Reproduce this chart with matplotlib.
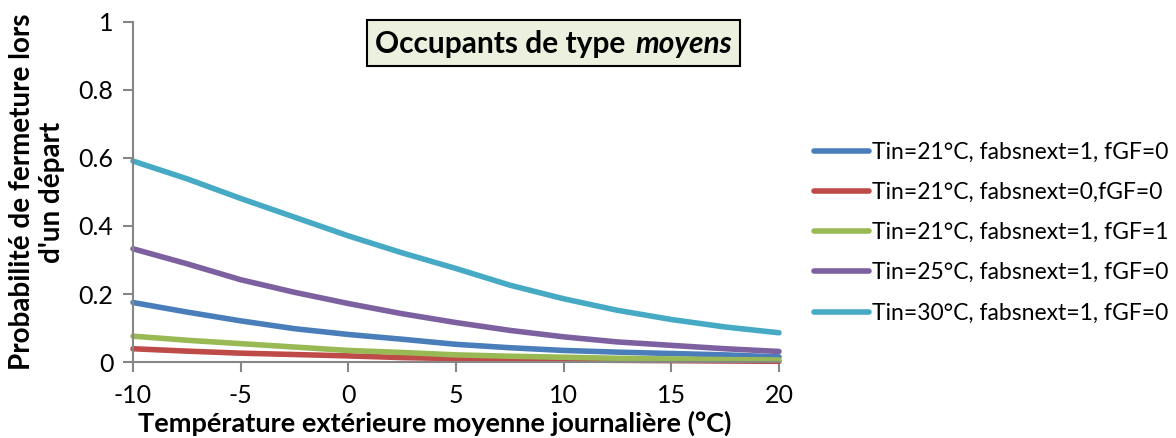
"""
Probabilité de fermeture lors d'un départ - occupants de type moyens.
"""

import matplotlib
matplotlib.use('Agg')
import matplotlib.pyplot as plt
from matplotlib.offsetbox import AnchoredOffsetbox, HPacker, TextArea
from matplotlib.patches import Rectangle

plt.rcParams['font.family'] = ['Lato', 'DejaVu Sans']
plt.rcParams['axes.unicode_minus'] = False

# ─────────────────────────────────────────────────────────────────────
# Data
# ─────────────────────────────────────────────────────────────────────

T_EXT = [-10, -7.5, -5, -2.5, 0, 2.5, 5, 7.5, 10, 12.5, 15, 17.5, 20]

P_21_ABS1_GF0 = [0.175, 0.147, 0.121, 0.098, 0.081, 0.067, 0.052,
                 0.042, 0.034, 0.029, 0.025, 0.021, 0.015]
P_21_ABS0_GF0 = [0.039, 0.032, 0.026, 0.022, 0.018, 0.013, 0.010,
                 0.008, 0.006, 0.005, 0.004, 0.003, 0.002]
P_21_ABS1_GF1 = [0.076, 0.064, 0.054, 0.044, 0.034, 0.028, 0.021,
                 0.017, 0.014, 0.011, 0.009, 0.007, 0.006]
P_25_ABS1_GF0 = [0.333, 0.289, 0.242, 0.205, 0.172, 0.142, 0.116,
                 0.093, 0.074, 0.059, 0.049, 0.039, 0.031]
P_30_ABS1_GF0 = [0.591, 0.539, 0.481, 0.426, 0.371, 0.321, 0.275,
                 0.226, 0.186, 0.152, 0.125, 0.103, 0.086]

SERIES = [
    ('Tin=21°C, fabsnext=1, fGF=0', P_21_ABS1_GF0, '#4A7EBB'),
    ('Tin=21°C, fabsnext=0,fGF=0',  P_21_ABS0_GF0, '#BE4B48'),
    ('Tin=21°C, fabsnext=1, fGF=1', P_21_ABS1_GF1, '#98B954'),
    ('Tin=25°C, fabsnext=1, fGF=0', P_25_ABS1_GF0, '#7D60A0'),
    ('Tin=30°C, fabsnext=1, fGF=0', P_30_ABS1_GF0, '#46AAC5'),
]

X_TICKS = [-10, -5, 0, 5, 10, 15, 20]
Y_TICKS = [0, 0.2, 0.4, 0.6, 0.8, 1]
Y_TICK_LABELS = ['0', '0.2', '0.4', '0.6', '0.8', '1']

AXIS_GREY = '#868686'

# ─────────────────────────────────────────────────────────────────────
# Plot
# ─────────────────────────────────────────────────────────────────────

fig = plt.figure(figsize=(11.76, 4.38), dpi=100)
ax = fig.add_axes([0.1131, 0.1735, 0.5493, 0.7763])

for label, values, color in SERIES:
    ax.plot(T_EXT, values, color=color, linewidth=4,
            solid_capstyle='round', label=label, clip_on=False)

ax.set_xlim(-10, 20)
ax.set_ylim(0, 1)
ax.set_xticks(X_TICKS)
ax.set_yticks(Y_TICKS)
ax.set_yticklabels(Y_TICK_LABELS)

for side in ('top', 'right'):
    ax.spines[side].set_visible(False)
for side in ('left', 'bottom'):
    ax.spines[side].set_color(AXIS_GREY)
    ax.spines[side].set_linewidth(1.5)
ax.tick_params(axis='both', direction='out', length=7, width=1.5,
               color=AXIS_GREY, labelsize=18)
ax.tick_params(axis='x', pad=9)
ax.tick_params(axis='y', pad=7)

ax.set_xlabel('Température extérieure moyenne journalière (°C)',
              fontsize=19.5, fontweight='bold')
ax.xaxis.set_label_coords(0.4675, -0.143)
ax.set_ylabel("Probabilité de fermeture lors\nd'un départ",
              fontsize=20, fontweight='bold', linespacing=1.15)
ax.yaxis.set_label_coords(-0.106, 0.5)

# Encadré de titre avec « moyens » en italique
fig.add_artist(Rectangle((367 / 1176, 1 - 66 / 438), 373 / 1176, 46 / 438,
                         transform=fig.transFigure, facecolor='#EBF1DE',
                         edgecolor='black', linewidth=1.5))
title_box = HPacker(
    children=[
        TextArea('Occupants de type',
                 textprops=dict(fontsize=21.5, fontweight='bold')),
        TextArea('moyens',
                 textprops=dict(fontsize=21.5, fontweight='bold',
                                style='italic')),
    ],
    pad=0, sep=7, align='baseline')
anchored = AnchoredOffsetbox(
    loc='center', child=title_box, pad=0, borderpad=0, frameon=False,
    bbox_to_anchor=(553.5 / 1176, 1 - 44 / 438),
    bbox_transform=fig.transFigure)
fig.add_artist(anchored)

fig.legend(loc='center left', bbox_to_anchor=(0.675, 0.469),
           frameon=False, fontsize=16.5, handlelength=2.4,
           handletextpad=0.1, labelspacing=0.84)

fig.savefig('out.png', dpi=100)
